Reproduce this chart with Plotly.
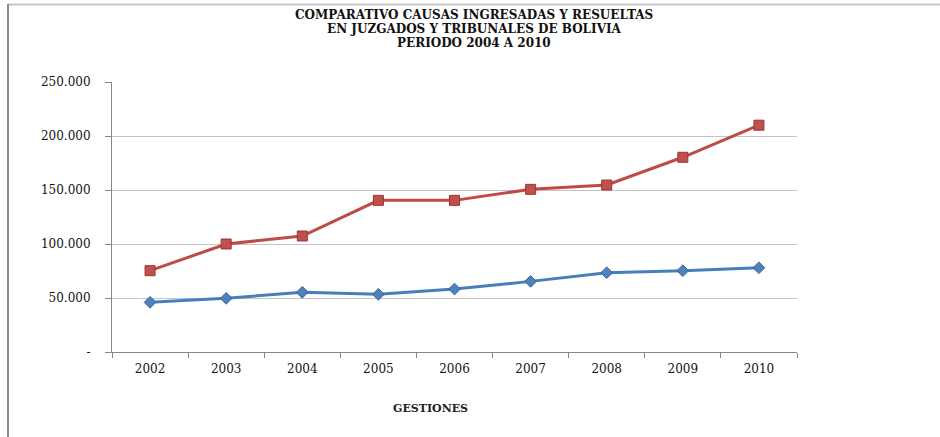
import plotly.graph_objects as go

# Court caseload 2002-2010
years = ["2002", "2003", "2004", "2005", "2006", "2007", "2008", "2009", "2010"]
ingresadas = [75300, 100000, 107400, 140400, 140400, 150600, 154600, 180300, 210000]
resueltas = [46000, 49700, 55300, 53400, 58300, 65400, 73400, 75300, 78000]

y_tickvals = [0, 50000, 100000, 150000, 200000, 250000]
y_ticktext = ["-", "50.000", "100.000", "150.000", "200.000", "250.000"]

title_lines = [
    "COMPARATIVO CAUSAS INGRESADAS Y RESUELTAS",
    "EN JUZGADOS Y TRIBUNALES DE BOLIVIA",
    "PERIODO 2004 A 2010",
]

SERIF = "DejaVu Serif"
W, H = 940, 437
L, R, T, B = 112, 143, 82, 85
pw, ph = W - L - R, H - T - B


def px_x(x):
    return (x - L) / pw


def px_y(y):
    return (H - B - y) / ph


fig = go.Figure()

fig.add_trace(go.Scatter(
    x=years, y=ingresadas, mode="lines+markers", name="Ingresadas",
    line=dict(color="#be4b48", width=3),
    marker=dict(symbol="square", size=10, color="#c0504d",
                line=dict(color="#9b3532", width=1)),
))
fig.add_trace(go.Scatter(
    x=years, y=resueltas, mode="lines+markers", name="Resueltas",
    line=dict(color="#4a7ebb", width=3),
    marker=dict(symbol="diamond", size=9, color="#4f81bd",
                line=dict(color="#3a6596", width=1)),
))

title_y = [15, 29, 43]
for txt, yy in zip(title_lines, title_y):
    fig.add_annotation(
        text=f"<b>{txt}</b>", xref="paper", yref="paper",
        x=px_x(474), y=px_y(yy), xanchor="center", yanchor="middle",
        showarrow=False, font=dict(family=SERIF, size=12, color="#111111"),
    )

fig.add_annotation(
    text="<b>GESTIONES</b>", xref="paper", yref="paper",
    x=px_x(430), y=px_y(408), xanchor="center", yanchor="middle",
    showarrow=False, font=dict(family=SERIF, size=11, color="#222222"),
)

# chart-area frame (top and left edges)
fig.add_shape(type="line", xref="paper", yref="paper",
              x0=px_x(8), x1=px_x(960), y0=px_y(4.5), y1=px_y(4.5),
              line=dict(color="#c8c8c8", width=2))
fig.add_shape(type="line", xref="paper", yref="paper",
              x0=px_x(8), x1=px_x(8), y0=px_y(4), y1=px_y(460),
              line=dict(color="#8a8a8a", width=2))

fig.update_layout(
    width=W, height=H,
    margin=dict(l=L, r=R, t=T, b=B),
    paper_bgcolor="white", plot_bgcolor="white",
    showlegend=False,
    font=dict(family=SERIF, size=12, color="#111111"),
)

fig.update_xaxes(
    type="category", tickson="boundaries",
    ticks="outside", ticklen=5, tickcolor="#868686",
    showline=True, linecolor="#868686", linewidth=1,
    showgrid=False, tickfont=dict(family=SERIF, size=12, color="#111111"),
    range=[-0.5, len(years) - 0.5], ticklabelstandoff=6,
)
fig.update_yaxes(
    range=[0, 250000], tickvals=y_tickvals, ticktext=y_ticktext,
    ticks="outside", ticklen=6, tickcolor="#868686",
    showline=True, linecolor="#868686", linewidth=1,
    showgrid=True, gridcolor="#c4c4c4", gridwidth=1,
    zeroline=False, ticklabelstandoff=12,
    tickfont=dict(family=SERIF, size=12, color="#111111"),
)

fig.write_html("out.html")
